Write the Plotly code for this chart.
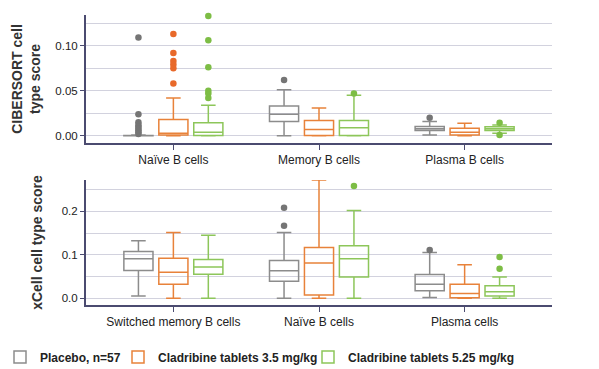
import plotly.graph_objects as go

# ---------------- data ----------------
groups = ["Placebo, n=57", "Cladribine tablets 3.5 mg/kg", "Cladribine tablets 5.25 mg/kg"]

# Top panel: CIBERSORT
top_cats = ["Naïve B cells", "Memory B cells", "Plasma B cells"]
top_q1 = [[0.0, 0.016, 0.006], [0.001, 0.0005, 0.001], [0.0005, 0.0005, 0.006]]
top_med = [[0.0, 0.024, 0.008], [0.003, 0.007, 0.004], [0.004, 0.009, 0.008]]
top_q3 = [[0.0005, 0.033, 0.0105], [0.018, 0.017, 0.0085], [0.0145, 0.017, 0.010]]
top_lo = [[0.0, 0.0, 0.001], [0.0, 0.0, 0.0], [0.0, 0.0, 0.003]]
top_hi = [[0.001, 0.051, 0.016], [0.042, 0.031, 0.014], [0.034, 0.045, 0.012]]
top_out = [
    [[0.109, 0.024, 0.015, 0.012, 0.010, 0.008, 0.006, 0.004, 0.002], [0.062], [0.020]],
    [[0.113, 0.092, 0.083, 0.079, 0.075, 0.058], [], []],
    [[0.133, 0.106, 0.076, 0.050, 0.047, 0.042], [0.047], [0.0145, 0.001]],
]

# Bottom panel: xCell
bot_cats = ["Switched memory B cells", "Naïve B cells", "Plasma cells"]
bot_q1 = [[0.064, 0.039, 0.017], [0.032, 0.0075, 0.001], [0.055, 0.049, 0.005]]
bot_med = [[0.091, 0.063, 0.032], [0.060, 0.081, 0.011], [0.072, 0.091, 0.015]]
bot_q3 = [[0.1075, 0.087, 0.0545], [0.092, 0.117, 0.032], [0.089, 0.121, 0.029]]
bot_lo = [[0.005, 0.0, 0.002], [0.0, 0.0, 0.0], [0.0, 0.0, 0.0]]
bot_hi = [[0.132, 0.151, 0.105], [0.151, 0.272, 0.077], [0.145, 0.202, 0.049]]
bot_out = [
    [[], [0.167, 0.208], [0.111]],
    [[], [], []],
    [[], [0.258], [0.068, 0.095]],
]

# ---------------- style ----------------
line_colors = ["#8c8c8c", "#e8823a", "#8dc65a"]
point_colors = ["#757575", "#e8692a", "#7dbd45"]
offsets = [-0.24, 0.0, 0.24]
axis_col = "#4b4b70"
grid_col = "#d2d2de"
font_fam = "Liberation Sans, Arial, sans-serif"

fig = go.Figure()

def add_panel(q1, med, q3, lo, hi, outs, xa, ya, legend_on):
    for g in range(3):
        xs = [i + offsets[g] for i in range(3)]
        fig.add_trace(go.Box(
            x=xs, q1=q1[g], median=med[g], q3=q3[g],
            lowerfence=lo[g], upperfence=hi[g],
            width=0.2, boxpoints=False,
            line=dict(color=line_colors[g], width=1.5),
            fillcolor="rgba(255,255,255,0)",
            name="<b>" + groups[g] + "</b>", showlegend=legend_on,
            legend=["legend", "legend2", "legend3"][g],
            xaxis=xa, yaxis=ya,
        ))
        px, py = [], []
        for i in range(3):
            for v in outs[g][i]:
                px.append(i + offsets[g])
                py.append(v)
        fig.add_trace(go.Scatter(
            x=px, y=py, mode="markers", cliponaxis=False,
            marker=dict(color=point_colors[g], size=6.5),
            showlegend=False, xaxis=xa, yaxis=ya, hoverinfo="skip",
        ))

add_panel(top_q1, top_med, top_q3, top_lo, top_hi, top_out, "x", "y", True)
add_panel(bot_q1, bot_med, bot_q3, bot_lo, bot_hi, bot_out, "x2", "y2", False)

xcommon = dict(
    range=[-0.6, 2.6], tickvals=[0, 1, 2], showline=True, linecolor=axis_col,
    linewidth=2, ticks="outside", ticklen=5, tickcolor=axis_col, showgrid=False,
    zeroline=False, tickfont=dict(size=12, color="#222222", family=font_fam),
)
ytick_font = dict(size=11.5, color="#222222", family=font_fam)
title_font = dict(size=14, color="#333333", family=font_fam)
fig.update_layout(
    width=599, height=369,
    margin=dict(l=86, r=47, t=15, b=64),
    plot_bgcolor="white", paper_bgcolor="white",
    boxmode="overlay",
    font=dict(family=font_fam, color="#222222"),
    xaxis=dict(domain=[0, 1], anchor="y", ticktext=top_cats, **xcommon),
    xaxis2=dict(domain=[0, 1], anchor="y2", ticktext=bot_cats, **xcommon),
    yaxis=dict(
        domain=[0.559, 1], anchor="x", range=[-0.0078, 0.134],
        tickvals=[0, 0.05, 0.10], tickformat=".2f",
        showline=True, linecolor=axis_col, linewidth=2,
        ticks="outside", ticklen=4, tickcolor=axis_col,
        showgrid=True, gridcolor=grid_col, gridwidth=1, zeroline=False,
        minor=dict(tickvals=[0.025, 0.075, 0.125], showgrid=True, gridcolor=grid_col, gridwidth=1, ticks=""),
        tickfont=ytick_font,
        title=dict(text="<b>CIBERSORT cell<br>type score</b>", font=title_font, standoff=11),
    ),
    yaxis2=dict(
        domain=[0, 0.431], anchor="x2", range=[-0.0155, 0.272],
        tickvals=[0, 0.1, 0.2], tickformat=".1f",
        showline=True, linecolor=axis_col, linewidth=2,
        ticks="outside", ticklen=4, tickcolor=axis_col,
        showgrid=True, gridcolor=grid_col, gridwidth=1, zeroline=False,
        minor=dict(tickvals=[0.05, 0.15, 0.25], showgrid=True, gridcolor=grid_col, gridwidth=1, ticks=""),
        tickfont=ytick_font,
        title=dict(text="<b>xCell cell type score</b>", font=title_font, standoff=16),
    ),
)

leg_font = dict(size=12, color="#222222", family=font_fam)
leg_px = [-7, 118, 308]
for name, lp in zip(["legend", "legend2", "legend3"], leg_px):
    fig.update_layout({name: dict(
        x=(lp - 86) / 466, y=(369 - 357) / 369, xref="paper", yref="container",
        xanchor="left", yanchor="middle", orientation="h",
        font=leg_font, bgcolor="rgba(0,0,0,0)", itemwidth=30,
    )})

fig.write_html("out.html")
